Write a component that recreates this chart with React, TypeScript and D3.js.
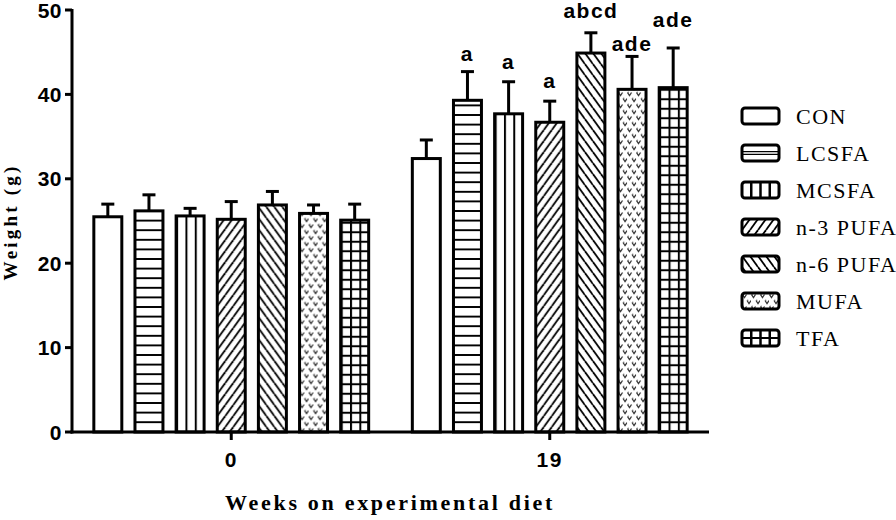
import React from 'react';
import * as d3 from 'd3';

const weeks = ['0', '19'];
const series = ['CON', 'LCSFA', 'MCSFA', 'n-3 PUFA', 'n-6 PUFA', 'MUFA', 'TFA'];
const patterns = ['none', 'hlines', 'vlines', 'fwd', 'back', 'dots', 'grid'];
const week0Mean = [25.5, 26.2, 25.6, 25.2, 26.9, 25.9, 25.1];
const week0Err = [1.5, 1.9, 0.9, 2.1, 1.6, 1.0, 1.9];
const week19Mean = [32.4, 39.3, 37.7, 36.7, 44.9, 40.6, 40.8];
const week19Err = [2.2, 3.4, 3.8, 2.5, 2.4, 3.9, 4.7];
const week19Letters = ['', 'a', 'a', 'a', 'abcd', 'ade', 'ade'];
const week19LetterY = [0, 44.0, 43.0, 40.8, 49.1, 45.1, 48.0];
const yTicks = [0, 10, 20, 30, 40, 50];

const W = 896;
const H = 520;
const X0 = 72;
const X1 = 709;
const YB = 432;
const YT = 10;

const SANS = '"Liberation Sans", Arial, sans-serif';
const SERIF = '"Liberation Serif", "Times New Roman", serif';

function Pattern({ id, kind, x, y, w }: { id: string; kind: string; x: number; y: number; w: number }) {
  const sw = 2;
  if (kind === 'hlines') {
    const h = 9.6;
    return (
      <pattern id={id} patternUnits="userSpaceOnUse" x={x} y={y} width={40} height={h}>
        <line x1={0} x2={40} y1={h / 2} y2={h / 2} stroke="#000" strokeWidth={sw} />
      </pattern>
    );
  }
  if (kind === 'vlines') {
    const pw = w / 3;
    return (
      <pattern id={id} patternUnits="userSpaceOnUse" x={x} y={y} width={pw} height={20}>
        <line x1={0} x2={0} y1={0} y2={20} stroke="#000" strokeWidth={sw * 2} />
      </pattern>
    );
  }
  if (kind === 'grid') {
    const pw = w / 3;
    const h = 9.5;
    return (
      <pattern id={id} patternUnits="userSpaceOnUse" x={x} y={y} width={pw} height={h}>
        <line x1={0} x2={0} y1={0} y2={h} stroke="#000" strokeWidth={sw * 2} />
        <line x1={0} x2={pw} y1={h / 2} y2={h / 2} stroke="#000" strokeWidth={sw} />
      </pattern>
    );
  }
  if (kind === 'fwd' || kind === 'back') {
    const pw = 8;
    const ph = 11;
    const segs = [-1, 0, 1].map((k) =>
      kind === 'fwd'
        ? { x1: k * pw, y1: ph, x2: (k + 1) * pw, y2: 0 }
        : { x1: k * pw, y1: 0, x2: (k + 1) * pw, y2: ph }
    );
    return (
      <pattern id={id} patternUnits="userSpaceOnUse" x={x} y={y} width={pw} height={ph}>
        {segs.map((s, i) => (
          <line key={i} {...s} stroke="#000" strokeWidth={1.8} />
        ))}
      </pattern>
    );
  }
  if (kind === 'dots') {
    const pw = 9;
    const ph = 12;
    const v = (cx: number, cy: number) => `M${cx - 2},${cy - 1.5} L${cx},${cy + 1.5} L${cx + 2},${cy - 1.5}`;
    return (
      <pattern id={id} patternUnits="userSpaceOnUse" x={x} y={y} width={pw} height={ph}>
        <path d={v(2.5, 3) + v(7, 9)} fill="none" stroke="#333" strokeWidth={1.3} />
        <circle cx={1.2} cy={1.2} r={0.6} fill="#555" />
        <circle cx={5.8} cy={7.2} r={0.6} fill="#555" />
      </pattern>
    );
  }
  return null;
}

export default function App() {
  const y = d3.scaleLinear().domain([0, 50]).range([YB, YT]);
  const xg = d3.scalePoint<string>().domain(weeks).range([X0, X1]).padding(0.5);
  const xb = d3.scaleBand<string>().domain(series).range([-144, 144]).paddingInner(0.32).paddingOuter(0.16);
  const bw = xb.bandwidth();

  const groups = [
    { week: weeks[0], mean: week0Mean, err: week0Err, letters: series.map(() => ''), ly: series.map(() => 0) },
    { week: weeks[1], mean: week19Mean, err: week19Err, letters: week19Letters, ly: week19LetterY },
  ];

  const defs: React.ReactNode[] = [];
  const bars: React.ReactNode[] = [];
  groups.forEach((g, gi) => {
    series.forEach((s, si) => {
      const bx = (xg(g.week) as number) + (xb(s) as number);
      const top = y(g.mean[si]);
      const cap = y(g.mean[si] + g.err[si]);
      const id = `p-${gi}-${si}`;
      const kind = patterns[si];
      if (kind !== 'none') defs.push(<Pattern key={id} id={id} kind={kind} x={bx} y={YB - 5} w={bw} />);
      const cx = bx + bw / 2;
      bars.push(
        <g key={id}>
          <line x1={cx} x2={cx} y1={top} y2={cap} stroke="#000" strokeWidth={3} />
          <line x1={cx - 6.5} x2={cx + 6.5} y1={cap} y2={cap} stroke="#000" strokeWidth={3} />
          <rect x={bx} y={top} width={bw} height={YB - top} fill="#fff" stroke="none" />
          {kind !== 'none' && <rect x={bx} y={top} width={bw} height={YB - top} fill={`url(#${id})`} />}
          <rect x={bx} y={top} width={bw} height={YB - top} fill="none" stroke="#000" strokeWidth={3} />
          {g.letters[si] && (
            <text
              x={cx}
              y={y(g.ly[si])}
              textAnchor="middle"
              fontFamily={SANS}
              fontWeight="bold"
              fontSize={21}
              letterSpacing={1.5}
            >
              {g.letters[si]}
            </text>
          )}
        </g>
      );
    });
  });

  const legendX = 742;
  const legendW = 37;
  const legendH = 16;
  const legendRow = (i: number) => 116 + 37 * i;
  const legend = series.map((s, i) => {
    const cy = legendRow(i);
    const id = `lp-${i}`;
    const kind = patterns[i];
    const top = cy - legendH / 2;
    let inner: React.ReactNode = null;
    if (kind === 'hlines') {
      inner = (
        <g>
          <line x1={legendX} x2={legendX + legendW} y1={cy - 1.3} y2={cy - 1.3} stroke="#000" strokeWidth={1.2} />
          <line x1={legendX} x2={legendX + legendW} y1={cy + 1.3} y2={cy + 1.3} stroke="#000" strokeWidth={1.2} />
        </g>
      );
    } else if (kind === 'vlines' || kind === 'grid') {
      inner = (
        <g>
          {[1, 2, 3].map((k) => (
            <line key={k} x1={legendX + (legendW * k) / 4} x2={legendX + (legendW * k) / 4} y1={top} y2={top + legendH} stroke="#000" strokeWidth={2.5} />
          ))}
          {kind === 'grid' && <line x1={legendX} x2={legendX + legendW} y1={cy} y2={cy} stroke="#000" strokeWidth={2} />}
        </g>
      );
    } else if (kind !== 'none') {
      defs.push(<Pattern key={id} id={id} kind={kind} x={legendX} y={top} w={legendW} />);
      inner = <rect x={legendX} y={top} width={legendW} height={legendH} fill={`url(#${id})`} />;
    }
    return (
      <g key={s}>
        <rect x={legendX} y={top} width={legendW} height={legendH} fill="#fff" />
        {inner}
        <rect x={legendX} y={top} width={legendW} height={legendH} rx={3} fill="none" stroke="#000" strokeWidth={3} />
        <text x={796} y={cy} dy="0.35em" fontFamily={SERIF} fontSize={22} letterSpacing={1.5}>
          {s}
        </text>
      </g>
    );
  });

  return (
    <svg width={W} height={H} style={{ position: 'absolute', left: 0, top: 0, background: '#fff' }}>
      <defs>{defs}</defs>
      {bars}
      {/* y axis */}
      <line x1={X0} x2={X0} y1={YT - 1} y2={YB + 1.5} stroke="#000" strokeWidth={3} />
      {yTicks.map((t) => (
        <g key={t}>
          <line x1={X0 - 7} x2={X0} y1={y(t)} y2={y(t)} stroke="#000" strokeWidth={3} />
          <text x={62} y={y(t)} dy="0.36em" textAnchor="end" fontFamily={SANS} fontWeight="bold" fontSize={21} letterSpacing={0.5}>
            {t}
          </text>
        </g>
      ))}
      {/* x axis */}
      <line x1={X0 - 1.5} x2={X1} y1={YB} y2={YB} stroke="#000" strokeWidth={3} />
      {weeks.map((w) => (
        <g key={w}>
          <line x1={xg(w) as number} x2={xg(w) as number} y1={YB} y2={YB + 8} stroke="#000" strokeWidth={3} />
          <text x={xg(w) as number} y={467} textAnchor="middle" fontFamily={SANS} fontWeight="bold" fontSize={21} letterSpacing={1.5}>
            {w}
          </text>
        </g>
      ))}
      <text x={390} y={510} textAnchor="middle" fontFamily={SERIF} fontWeight="bold" fontSize={22} letterSpacing={2.7}>
        Weeks on experimental diet
      </text>
      <text
        transform={`translate(17,222) rotate(-90)`}
        textAnchor="middle"
        fontFamily={SERIF}
        fontWeight="bold"
        fontSize={19}
        letterSpacing={3.2}
      >
        Weight (g)
      </text>
      {legend}
    </svg>
  );
}
